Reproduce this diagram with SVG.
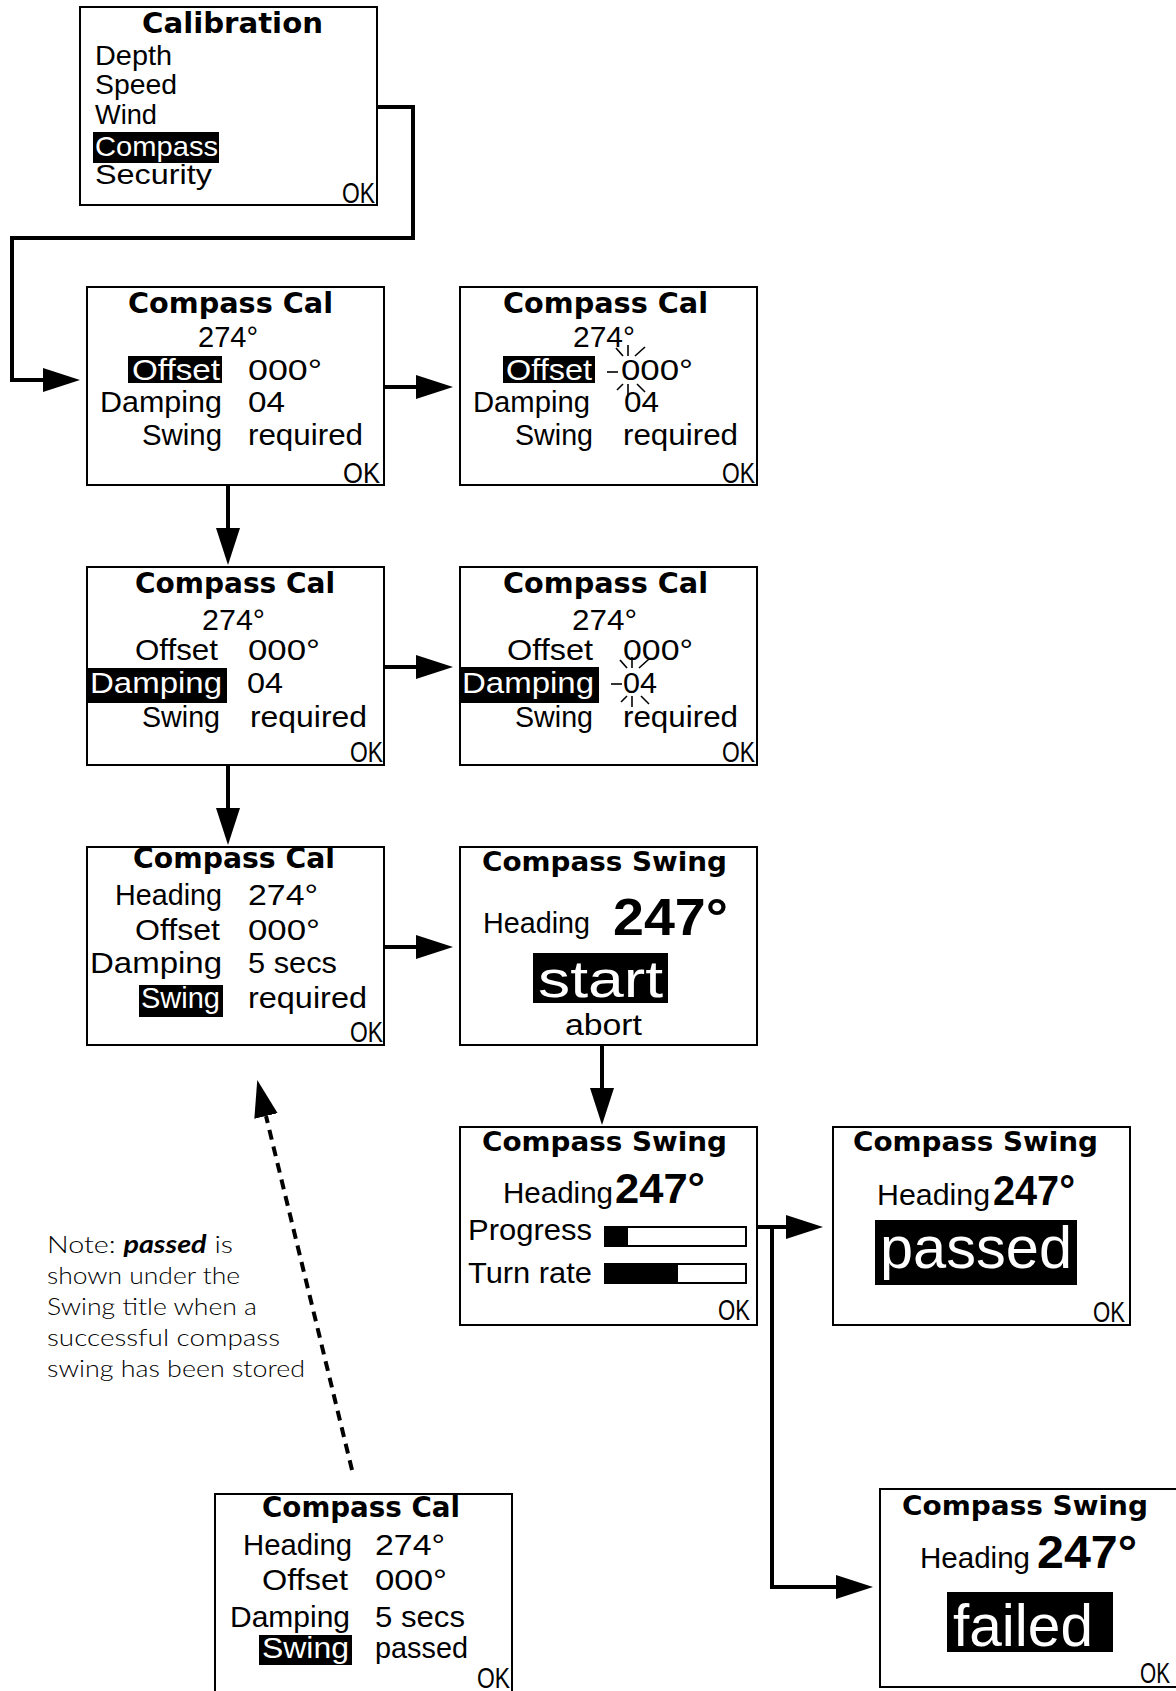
<svg xmlns="http://www.w3.org/2000/svg" xmlns:xlink="http://www.w3.org/1999/xlink" width="1176" height="1691" viewBox="0 0 1176 1691">
<defs>
<style>
.box{fill:#fff;stroke:#000;stroke-width:2}
.ttl{font-family:"DejaVu Sans","Liberation Sans",sans-serif;font-weight:bold;font-size:29px;fill:#000}
.ttl2{font-family:"DejaVu Sans","Liberation Sans",sans-serif;font-weight:bold;font-size:27px;fill:#000}
.row{font-family:"Liberation Sans","DejaVu Sans",sans-serif;font-size:29px;fill:#000}
.inv{fill:#fff}
.hl{fill:#000}
.big{font-family:"Liberation Sans",sans-serif;font-weight:bold;font-size:52px;fill:#000}
.mid{font-family:"Liberation Sans",sans-serif;font-weight:bold;font-size:43px;fill:#000}
.huge{font-family:"Liberation Sans",sans-serif;font-size:60px}
.start{font-family:"Liberation Sans",sans-serif;font-size:52px}
.note{font-family:"Lato","Liberation Sans",sans-serif;font-weight:300;font-size:24px;fill:#000}
.conn{fill:none;stroke:#000;stroke-width:4}
.dash{stroke-dasharray:10 7}
.bar{fill:#fff;stroke:#000;stroke-width:2}
.ray{stroke:#000;stroke-width:1.6;fill:none}
</style>
<marker id="ah" markerUnits="userSpaceOnUse" markerWidth="38" markerHeight="26" refX="0" refY="12" orient="auto">
<path d="M0,0 L37,12 L0,24 Z" fill="#000"/>
</marker>
<g id="rays" class="ray">
<line x1="0" y1="-25" x2="0" y2="-14"/>
<line x1="0" y1="14" x2="0" y2="25"/>
<line x1="-21" y1="2" x2="-10" y2="2"/>
<line x1="-12" y1="-22" x2="-5" y2="-14"/>
<line x1="7" y1="-14" x2="17" y2="-23"/>
<line x1="-11" y1="20" x2="-5" y2="14"/>
<line x1="9" y1="14" x2="17" y2="22"/>
</g>
</defs>
<rect width="1176" height="1691" fill="#fff"/>

<g id="connectors">
<path class="conn" d="M377,107 H413 V238 H12 V380 H43" marker-end="url(#ah)"/>
<path class="conn" d="M384,387 H416" marker-end="url(#ah)"/>
<path class="conn" d="M228,485 V528" marker-end="url(#ah)"/>
<path class="conn" d="M384,667 H416" marker-end="url(#ah)"/>
<path class="conn" d="M228,764 V808" marker-end="url(#ah)"/>
<path class="conn" d="M384,947 H416" marker-end="url(#ah)"/>
<path class="conn" d="M602,1044 V1088" marker-end="url(#ah)"/>
<path class="conn" d="M757,1227 H786" marker-end="url(#ah)"/>
<path class="conn" d="M772,1227 V1587 H836" marker-end="url(#ah)"/>
<path class="conn dash" d="M352,1470 L266,1116" marker-end="url(#ah)"/>
</g>

<g id="calibration">
<rect class="box" x="80" y="7" width="297" height="198"/>
<text class="ttl" x="142" y="33" textLength="181" lengthAdjust="spacingAndGlyphs">Calibration</text>
<text class="row" style="font-size:28px" x="95" y="65" textLength="77" lengthAdjust="spacingAndGlyphs">Depth</text>
<text class="row" style="font-size:28px" x="95" y="94" textLength="82" lengthAdjust="spacingAndGlyphs">Speed</text>
<text class="row" style="font-size:28px" x="95" y="124" textLength="62" lengthAdjust="spacingAndGlyphs">Wind</text>
<rect class="hl" x="93" y="132" width="126" height="31"/>
<text class="row inv" style="font-size:28px" x="95" y="156" textLength="123" lengthAdjust="spacingAndGlyphs">Compass</text>
<text class="row" style="font-size:28px" x="95" y="184" textLength="117" lengthAdjust="spacingAndGlyphs">Security</text>
<text class="row" x="342" y="203" textLength="33" lengthAdjust="spacingAndGlyphs">OK</text>
</g>

<g id="cal-offset">
<rect class="box" x="87" y="287" width="297" height="198"/>
<text class="ttl" x="128" y="313" textLength="205" lengthAdjust="spacingAndGlyphs">Compass Cal</text>
<text class="row" x="198" y="347" textLength="60" lengthAdjust="spacingAndGlyphs">274°</text>
<rect class="hl" x="128" y="356" width="94" height="27"/>
<text class="row inv" x="132" y="380" textLength="88" lengthAdjust="spacingAndGlyphs">Offset</text>
<text class="row" x="248" y="380" textLength="74" lengthAdjust="spacingAndGlyphs">000°</text>
<text class="row" x="100" y="412" textLength="122" lengthAdjust="spacingAndGlyphs">Damping</text>
<text class="row" x="248" y="412" textLength="37" lengthAdjust="spacingAndGlyphs">04</text>
<text class="row" x="142" y="445" textLength="80" lengthAdjust="spacingAndGlyphs">Swing</text>
<text class="row" x="248" y="445" textLength="115" lengthAdjust="spacingAndGlyphs">required</text>
<text class="row" x="343" y="483" textLength="37" lengthAdjust="spacingAndGlyphs">OK</text>
</g>

<g id="cal-offset-edit">
<rect class="box" x="460" y="287" width="297" height="198"/>
<text class="ttl" x="503" y="313" textLength="205" lengthAdjust="spacingAndGlyphs">Compass Cal</text>
<text class="row" x="573" y="347" textLength="62" lengthAdjust="spacingAndGlyphs">274°</text>
<rect class="hl" x="503" y="356" width="92" height="27"/>
<text class="row inv" x="506" y="380" textLength="86" lengthAdjust="spacingAndGlyphs">Offset</text>
<use xlink:href="#rays" x="628" y="370"/>
<text class="row" x="621" y="380" textLength="72" lengthAdjust="spacingAndGlyphs">000°</text>
<text class="row" x="473" y="412" textLength="117" lengthAdjust="spacingAndGlyphs">Damping</text>
<text class="row" x="624" y="412" textLength="35" lengthAdjust="spacingAndGlyphs">04</text>
<text class="row" x="515" y="445" textLength="78" lengthAdjust="spacingAndGlyphs">Swing</text>
<text class="row" x="623" y="445" textLength="115" lengthAdjust="spacingAndGlyphs">required</text>
<text class="row" x="722" y="483" textLength="33" lengthAdjust="spacingAndGlyphs">OK</text>
</g>

<g id="cal-damping">
<rect class="box" x="87" y="567" width="297" height="198"/>
<text class="ttl" x="135" y="593" textLength="200" lengthAdjust="spacingAndGlyphs">Compass Cal</text>
<text class="row" x="202" y="630" textLength="63" lengthAdjust="spacingAndGlyphs">274°</text>
<text class="row" x="135" y="660" textLength="83" lengthAdjust="spacingAndGlyphs">Offset</text>
<text class="row" x="248" y="660" textLength="72" lengthAdjust="spacingAndGlyphs">000°</text>
<rect class="hl" x="88" y="668" width="139" height="35"/>
<text class="row inv" x="90" y="693" textLength="132" lengthAdjust="spacingAndGlyphs">Damping</text>
<text class="row" x="247" y="693" textLength="36" lengthAdjust="spacingAndGlyphs">04</text>
<text class="row" x="142" y="727" textLength="78" lengthAdjust="spacingAndGlyphs">Swing</text>
<text class="row" x="250" y="727" textLength="117" lengthAdjust="spacingAndGlyphs">required</text>
<text class="row" x="350" y="762" textLength="33" lengthAdjust="spacingAndGlyphs">OK</text>
</g>

<g id="cal-damping-edit">
<rect class="box" x="460" y="567" width="297" height="198"/>
<text class="ttl" x="503" y="593" textLength="205" lengthAdjust="spacingAndGlyphs">Compass Cal</text>
<text class="row" x="572" y="630" textLength="65" lengthAdjust="spacingAndGlyphs">274°</text>
<text class="row" x="507" y="660" textLength="86" lengthAdjust="spacingAndGlyphs">Offset</text>
<text class="row" x="623" y="660" textLength="70" lengthAdjust="spacingAndGlyphs">000°</text>
<rect class="hl" x="460" y="667" width="139" height="36"/>
<text class="row inv" x="462" y="693" textLength="132" lengthAdjust="spacingAndGlyphs">Damping</text>
<use xlink:href="#rays" x="632" y="682"/>
<text class="row" x="623" y="693" textLength="34" lengthAdjust="spacingAndGlyphs">04</text>
<text class="row" x="515" y="727" textLength="78" lengthAdjust="spacingAndGlyphs">Swing</text>
<text class="row" x="623" y="727" textLength="115" lengthAdjust="spacingAndGlyphs">required</text>
<text class="row" x="722" y="762" textLength="33" lengthAdjust="spacingAndGlyphs">OK</text>
</g>

<g id="cal-swing">
<rect class="box" x="87" y="847" width="297" height="198"/>
<text class="ttl" x="133" y="868" textLength="202" lengthAdjust="spacingAndGlyphs">Compass Cal</text>
<text class="row" x="115" y="905" textLength="107" lengthAdjust="spacingAndGlyphs">Heading</text>
<text class="row" x="248" y="905" textLength="70" lengthAdjust="spacingAndGlyphs">274°</text>
<text class="row" x="135" y="940" textLength="85" lengthAdjust="spacingAndGlyphs">Offset</text>
<text class="row" x="248" y="940" textLength="72" lengthAdjust="spacingAndGlyphs">000°</text>
<text class="row" x="90" y="973" textLength="132" lengthAdjust="spacingAndGlyphs">Damping</text>
<text class="row" x="248" y="973" textLength="89" lengthAdjust="spacingAndGlyphs">5 secs</text>
<rect class="hl" x="139" y="985" width="84" height="32"/>
<text class="row inv" x="141" y="1008" textLength="79" lengthAdjust="spacingAndGlyphs">Swing</text>
<text class="row" x="248" y="1008" textLength="119" lengthAdjust="spacingAndGlyphs">required</text>
<text class="row" x="350" y="1042" textLength="33" lengthAdjust="spacingAndGlyphs">OK</text>
</g>

<g id="swing-start">
<rect class="box" x="460" y="847" width="297" height="198"/>
<text class="ttl2" x="482" y="871" textLength="245" lengthAdjust="spacingAndGlyphs">Compass Swing</text>
<text class="row" x="483" y="933" textLength="107" lengthAdjust="spacingAndGlyphs">Heading</text>
<text class="big" x="613" y="935" textLength="115" lengthAdjust="spacingAndGlyphs">247°</text>
<rect class="hl" x="533" y="953" width="135" height="50"/>
<text class="start inv" x="538" y="997" textLength="125" lengthAdjust="spacingAndGlyphs">start</text>
<text class="row" x="565" y="1035" textLength="77" lengthAdjust="spacingAndGlyphs">abort</text>
</g>

<g id="swing-progress">
<rect class="box" x="460" y="1127" width="297" height="198"/>
<text class="ttl2" x="482" y="1151" textLength="245" lengthAdjust="spacingAndGlyphs">Compass Swing</text>
<text class="row" x="503" y="1203" textLength="110" lengthAdjust="spacingAndGlyphs">Heading</text>
<text class="mid" x="615" y="1203" textLength="90" lengthAdjust="spacingAndGlyphs">247°</text>
<text class="row" x="468" y="1240" textLength="124" lengthAdjust="spacingAndGlyphs">Progress</text>
<rect class="bar" x="605" y="1227" width="141" height="19"/>
<rect class="hl" x="604" y="1226" width="24" height="21"/>
<text class="row" x="468" y="1283" textLength="124" lengthAdjust="spacingAndGlyphs">Turn rate</text>
<rect class="bar" x="605" y="1264" width="141" height="19"/>
<rect class="hl" x="604" y="1263" width="74" height="21"/>
<text class="row" x="718" y="1320" textLength="32" lengthAdjust="spacingAndGlyphs">OK</text>
</g>

<g id="swing-passed">
<rect class="box" x="833" y="1127" width="297" height="198"/>
<text class="ttl2" x="853" y="1151" textLength="245" lengthAdjust="spacingAndGlyphs">Compass Swing</text>
<text class="row" x="877" y="1205" textLength="113" lengthAdjust="spacingAndGlyphs">Heading</text>
<text class="mid" x="993" y="1205" textLength="82" lengthAdjust="spacingAndGlyphs">247°</text>
<rect class="hl" x="875" y="1220" width="202" height="65"/>
<text class="huge inv" x="880" y="1268" textLength="192" lengthAdjust="spacingAndGlyphs">passed</text>
<text class="row" x="1093" y="1322" textLength="32" lengthAdjust="spacingAndGlyphs">OK</text>
</g>

<g id="swing-failed">
<rect class="box" x="880" y="1489" width="297" height="198"/>
<text class="ttl2" x="902" y="1515" textLength="246" lengthAdjust="spacingAndGlyphs">Compass Swing</text>
<text class="row" x="920" y="1568" textLength="110" lengthAdjust="spacingAndGlyphs">Heading</text>
<text class="big" style="font-size:46px" x="1037" y="1568" textLength="100" lengthAdjust="spacingAndGlyphs">247°</text>
<rect class="hl" x="947" y="1592" width="166" height="60"/>
<text class="huge inv" x="953" y="1646" textLength="140" lengthAdjust="spacingAndGlyphs">failed</text>
<text class="row" x="1140" y="1683" textLength="30" lengthAdjust="spacingAndGlyphs">OK</text>
</g>

<g id="cal-passed">
<rect class="box" x="215" y="1494" width="297" height="198"/>
<text class="ttl" x="262" y="1517" textLength="198" lengthAdjust="spacingAndGlyphs">Compass Cal</text>
<text class="row" x="243" y="1555" textLength="109" lengthAdjust="spacingAndGlyphs">Heading</text>
<text class="row" x="375" y="1555" textLength="70" lengthAdjust="spacingAndGlyphs">274°</text>
<text class="row" x="262" y="1590" textLength="86" lengthAdjust="spacingAndGlyphs">Offset</text>
<text class="row" x="375" y="1590" textLength="72" lengthAdjust="spacingAndGlyphs">000°</text>
<text class="row" x="230" y="1627" textLength="120" lengthAdjust="spacingAndGlyphs">Damping</text>
<text class="row" x="375" y="1627" textLength="90" lengthAdjust="spacingAndGlyphs">5 secs</text>
<rect class="hl" x="259" y="1635" width="93" height="30"/>
<text class="row inv" x="262" y="1658" textLength="87" lengthAdjust="spacingAndGlyphs">Swing</text>
<text class="row" x="375" y="1658" textLength="93" lengthAdjust="spacingAndGlyphs">passed</text>
<text class="row" x="477" y="1688" textLength="33" lengthAdjust="spacingAndGlyphs">OK</text>
</g>

<g id="note">
<text class="note" x="47" y="1253" textLength="186" lengthAdjust="spacingAndGlyphs">Note: <tspan font-weight="bold" font-style="italic">passed</tspan>  is</text>
<text class="note" x="47" y="1284" textLength="193" lengthAdjust="spacingAndGlyphs">shown under the</text>
<text class="note" x="47" y="1315" textLength="210" lengthAdjust="spacingAndGlyphs">Swing title when a</text>
<text class="note" x="47" y="1346" textLength="233" lengthAdjust="spacingAndGlyphs">successful compass</text>
<text class="note" x="47" y="1377" textLength="258" lengthAdjust="spacingAndGlyphs">swing has been stored</text>
</g>
</svg>
